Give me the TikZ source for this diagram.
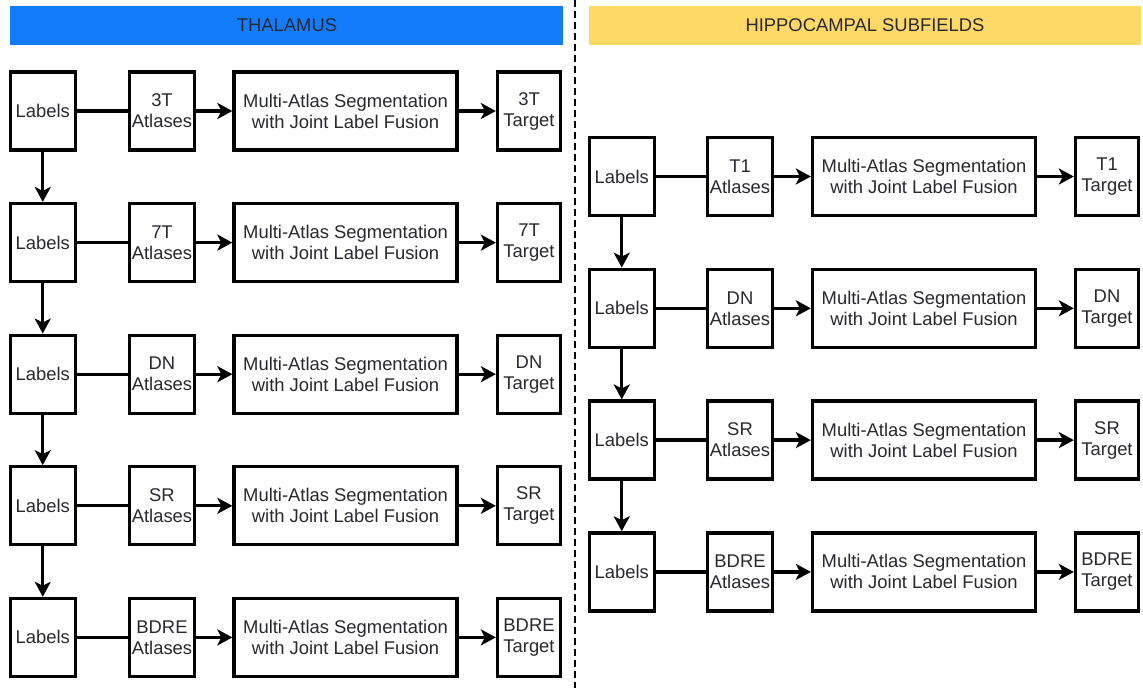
\documentclass[tikz,border=0pt]{standalone}
\usepackage{fontspec}
\setmainfont{Liberation Sans}
\usetikzlibrary{arrows.meta}
\definecolor{barblue}{RGB}{18,124,252}
\definecolor{baryellow}{RGB}{255,217,102}
\definecolor{inkgray}{RGB}{40,40,48}
\begin{document}
\begin{tikzpicture}[x=1pt,y=-1pt,
  stagebox/.style={draw=black,fill=white,line width=3.3pt,inner sep=0pt,
    minimum height=78pt,align=center,text=inkgray,
    font=\fontsize{18.4}{21}\selectfont},
  lblbox/.style={stagebox,minimum width=65pt},
  atlbox/.style={stagebox,minimum width=65pt},
  masbox/.style={stagebox,minimum width=223pt},
  tgtbox/.style={stagebox,minimum width=63pt},
  flow/.style={line width=3.3pt,-{Stealth[length=15pt,width=16pt,inset=4pt]}},
  link/.style={line width=3.3pt},
  bartext/.style={inner sep=0pt,text=inkgray,font=\fontsize{18.4}{21}\selectfont}]
\useasboundingbox (0,0) rectangle (1143,688);
\fill[white] (0,0) rectangle (1143,688);

% panel headers
\fill[barblue] (10,6) rectangle (563,45);
\node[bartext] (thal) at (287,25.5) {THALAMUS};
\fill[baryellow] (589,6) rectangle (1141,45);
\node[bartext] (hipp) at (865,25.5) {HIPPOCAMPAL SUBFIELDS};

% divider
\draw[line width=2.5pt,dash pattern=on 7pt off 4pt] (575,0) -- (575,688);

% thalamus pipelines
\foreach \k/\nm in {0/3T,1/7T,2/DN,3/SR,4/BDRE}{
  \pgfmathsetmacro{\yy}{111+131.6*\k}
  \node[lblbox] (tl\k) at (42.75,\yy) {Labels};
  \node[atlbox] (ta\k) at (162,\yy) {\nm\\Atlases};
  \node[masbox] (tm\k) at (345.5,\yy) {Multi-Atlas Segmentation\\with Joint Label Fusion};
  \node[tgtbox] (tt\k) at (529,\yy) {\nm\\Target};
  \draw[link] (tl\k) -- (ta\k);
  \draw[flow] (ta\k) -- (tm\k);
  \draw[flow] (tm\k) -- (tt\k);
}
\foreach \a/\b in {0/1,1/2,2/3,3/4}{
  \draw[flow] (tl\a) -- (tl\b);
}

% hippocampal subfield pipelines
\foreach \k/\nm in {0/T1,1/DN,2/SR,3/BDRE}{
  \pgfmathsetmacro{\yy}{176.5+131.8*\k}
  \node[lblbox] (hl\k) at (621.75,\yy) {Labels};
  \node[atlbox] (ha\k) at (740,\yy) {\nm\\Atlases};
  \node[masbox] (hm\k) at (924,\yy) {Multi-Atlas Segmentation\\with Joint Label Fusion};
  \node[tgtbox] (ht\k) at (1107,\yy) {\nm\\Target};
  \draw[link] (hl\k) -- (ha\k);
  \draw[flow] (ha\k) -- (hm\k);
  \draw[flow] (hm\k) -- (ht\k);
}
\foreach \a/\b in {0/1,1/2,2/3}{
  \draw[flow] (hl\a) -- (hl\b);
}
\end{tikzpicture}
\end{document}
